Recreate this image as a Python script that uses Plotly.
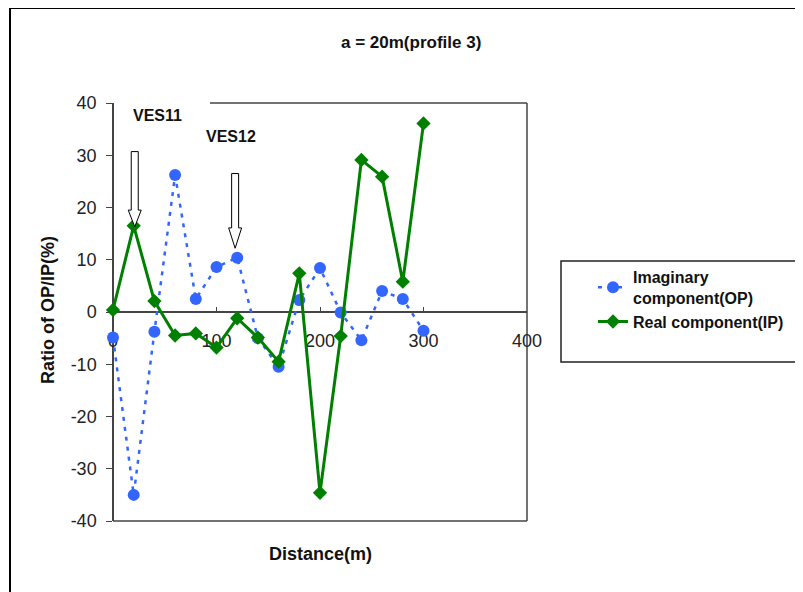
import plotly.graph_objects as go

distance = [0, 20, 40, 60, 80, 100, 120, 140, 160, 180, 200, 220, 240, 260, 280, 300]
imaginary_op = [-4.9, -35.0, -3.8, 26.2, 2.5, 8.6, 10.4, -5.0, -10.5, 2.3, 8.4, -0.1, -5.4, 4.0, 2.5, -3.6]
real_ip = [0.4, 16.5, 2.1, -4.5, -4.1, -6.8, -1.2, -4.9, -9.5, 7.4, -34.6, -4.6, 29.1, 25.9, 5.8, 36.1]
x_ticks = [0, 100, 200, 300, 400]
y_ticks = [-40, -30, -20, -10, 0, 10, 20, 30, 40]
ves_labels = ["VES11", "VES12"]
ves_pos = [21, 118]
# arrow: shaft top, head start, tip (data y)
ves_arrow_y = [(30.7, 19.5, 16.3), (26.5, 16.1, 12.2)]

FONT = "Liberation Sans, Arial, sans-serif"
FRAME = "#444444"

fig = go.Figure()
fig.add_trace(go.Scatter(
    x=distance, y=imaginary_op, mode="lines+markers",
    name="<b>Imaginary<br>component(OP)</b>",
    line=dict(color="#3366ff", width=2.5, dash="4px,6px"),
    marker=dict(symbol="circle", size=12, color="#3366ff"),
    cliponaxis=False,
))
fig.add_trace(go.Scatter(
    x=distance, y=real_ip, mode="lines+markers",
    name="<b>Real component(IP)</b>",
    line=dict(color="#008000", width=3),
    marker=dict(symbol="diamond", size=11, color="#008000"),
    cliponaxis=False,
))

OFF = 8  # page body margin
W, H = 803 - OFF, 592 - OFF
L, R, T, B = 113, 527, 103, 521  # plot area in reference pixels


def px(x):
    return (x - L) / (R - L)


def py(y):
    return (B - y) / (B - T)


shapes = []
# outer chart border (top and left visible)
shapes.append(dict(type="line", xref="paper", yref="paper", x0=px(10), x1=px(830), y0=py(8), y1=py(8),
                   line=dict(color="black", width=2)))
shapes.append(dict(type="line", xref="paper", yref="paper", x0=px(10), x1=px(10), y0=py(8), y1=py(620),
                   line=dict(color="black", width=2)))
# plot frame
shapes.append(dict(type="line", xref="paper", yref="paper", x0=0, x1=1, y0=0, y1=0,
                   line=dict(color=FRAME, width=1.5), layer="below"))
shapes.append(dict(type="line", xref="paper", yref="paper", x0=1, x1=1, y0=0, y1=1,
                   line=dict(color=FRAME, width=1.5), layer="below"))
shapes.append(dict(type="line", xref="paper", yref="paper", x0=px(210), x1=1, y0=1, y1=1,
                   line=dict(color=FRAME, width=1.5), layer="below"))
# legend box
shapes.append(dict(type="rect", xref="paper", yref="paper", x0=px(561), x1=px(801), y0=py(362), y1=py(261),
                   line=dict(color="#222222", width=1.5), fillcolor="white", layer="below"))
# hollow block arrows
for xpos, (ytop, yhead, ytip) in zip(ves_pos, ves_arrow_y):
    path = (f"M-3.5,{ytop} L3.5,{ytop} L3.5,{yhead} L6.5,{yhead} L0,{ytip} "
            f"L-6.5,{yhead} L-3.5,{yhead} Z")
    shapes.append(dict(type="path", xref="x", yref="y", xsizemode="pixel", xanchor=xpos,
                       path=path, fillcolor="white", line=dict(color="black", width=1)))


def ann(text, x, y, size, angle=0):
    return dict(text=text, x=px(x), y=py(y), xref="paper", yref="paper", xanchor="center",
                yanchor="middle", showarrow=False, textangle=angle,
                font=dict(size=size, color="#111111", family=FONT))


annotations = [
    ann("<b>a = 20m(profile 3)</b>", 411, 43, 17),
    ann("<b>Ratio of OP/IP(%)</b>", 48, 310, 18, -90),
    ann("<b>Distance(m)</b>", 320, 554, 18),
]
for lab, lx, ly in zip(ves_labels, [157.5, 231], [115.7, 136.7]):
    annotations.append(ann(f"<b>{lab}</b>", lx, ly, 16))

fig.update_layout(
    width=W, height=H,
    margin=dict(l=L - OFF, r=W - (R - OFF), t=T - OFF, b=H - (B - OFF), pad=0),
    paper_bgcolor="white", plot_bgcolor="white",
    font=dict(family=FONT, size=18, color="#222222"),
    showlegend=True,
    legend=dict(x=px(593), y=py(260), xanchor="left", yanchor="top",
                bgcolor="rgba(0,0,0,0)", borderwidth=0,
                font=dict(size=16, color="#111111", family=FONT), tracegroupgap=0),
    xaxis=dict(range=[0, 400], tickvals=x_ticks, ticktext=[str(v) for v in x_ticks],
               anchor="free", position=0.5, showline=True, linecolor=FRAME, linewidth=1.5,
               ticks="inside", ticklen=4, tickcolor=FRAME, showgrid=False, zeroline=False,
               ticklabelstandoff=13, layer="below traces", fixedrange=True),
    yaxis=dict(range=[-40, 40], tickvals=y_ticks, ticktext=[str(v) for v in y_ticks],
               anchor="free", position=0, showline=True, linecolor=FRAME, linewidth=1.5,
               ticks="outside", ticklen=6, tickcolor=FRAME, showgrid=False, zeroline=False,
               ticklabelstandoff=6, layer="below traces", fixedrange=True),
    shapes=shapes,
    annotations=annotations,
)

fig.write_html("out.html")
